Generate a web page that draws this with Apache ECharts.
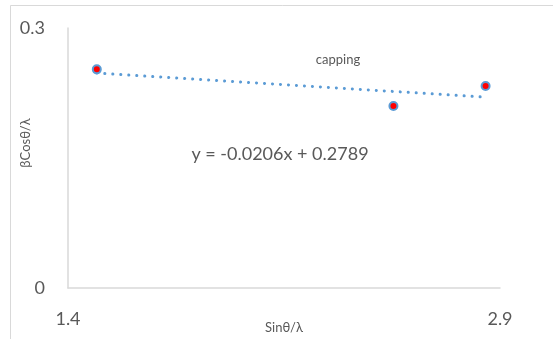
<!DOCTYPE html>
<html><head><meta charset="utf-8">
<script src="https://cdn.jsdelivr.net/npm/echarts@6/dist/echarts.min.js"></script>
<style>html,body{margin:0;padding:0;background:#fff}#c{width:553px;height:339px}</style>
</head><body><div id="c"></div>
<script>
const xValues = [1.5, 2.53, 2.85];
const yValues = [0.2523, 0.210, 0.2331];
const trendX = [1.5, 2.85];
const trendY = [0.2480, 0.2202];
const xTickLabels = ['1.4', '2.9'];
const yTickLabels = ['0', '0.3'];
const equationText = 'y = -0.0206x + 0.2789';
const seriesName = 'capping';
const xTitle = 'Sinθ/λ';
const yTitle = 'βCosθ/λ';

const font = 'Lato, "Open Sans", sans-serif';
const grey = '#595959';
const chart = echarts.init(document.getElementById('c'), null, {renderer: 'canvas'});
chart.setOption({
  animation: false,
  backgroundColor: '#fff',
  grid: {left: 68, right: 53, top: 28, bottom: 51, containLabel: false, outerBoundsMode: 'none'},
  xAxis: {
    type: 'value', min: 1.4, max: 2.9, interval: 0.1,
    axisLine: {show: true, lineStyle: {color: '#d9d9d9', width: 1.5}},
    axisTick: {show: false}, splitLine: {show: false},
    axisLabel: {
      margin: 22, color: grey, fontSize: 18, fontFamily: font,
      formatter: v => { const s = v.toFixed(1); return xTickLabels.includes(s) ? s : ''; }
    },
    name: xTitle, nameLocation: 'middle', nameGap: 33, nameMoveOverlap: false,
    nameTextStyle: {color: grey, fontSize: 13, fontFamily: font}
  },
  yAxis: {
    type: 'value', min: 0, max: 0.3, interval: 0.3,
    axisLine: {show: true, lineStyle: {color: '#d9d9d9', width: 1.5}},
    axisTick: {show: false}, splitLine: {show: false},
    axisLabel: {
      margin: 23, color: grey, fontSize: 18, fontFamily: font,
      formatter: v => { const s = v === 0 ? '0' : v.toFixed(1); return yTickLabels.includes(s) ? s : ''; }
    }
  },
  graphic: [
    {type: 'rect', silent: true, z: -1, shape: {x: 10.5, y: 5.5, width: 700, height: 500},
     style: {fill: null, stroke: '#d9d9d9', lineWidth: 1}},
    {type: 'text', x: 26, y: 143, rotation: Math.PI / 2,
     style: {text: yTitle, fill: grey, font: '13px ' + font, textAlign: 'center', textVerticalAlign: 'middle'}},
    {type: 'text', x: 338, y: 60, style: {text: seriesName, fill: grey, font: '13px ' + font, textAlign: 'center', textVerticalAlign: 'middle'}},
    {type: 'text', x: 280, y: 154, style: {text: equationText, fill: grey, font: '18px ' + font, textAlign: 'center', textVerticalAlign: 'middle'}}
  ],
  series: [
    {
      type: 'line', data: trendX.map((x, i) => [x, trendY[i]]), symbol: 'none', z: 2,
      lineStyle: {color: '#5B9BD5', width: 3, type: [0.1, 7.9], cap: 'round'}
    },
    {
      type: 'scatter', name: seriesName, data: xValues.map((x, i) => [x, yValues[i]]), z: 3,
      symbol: 'circle', symbolSize: 8,
      itemStyle: {color: '#ff0000', borderColor: '#5B9BD5', borderWidth: 2, opacity: 1}
    }
  ]
});
</script></body></html>
